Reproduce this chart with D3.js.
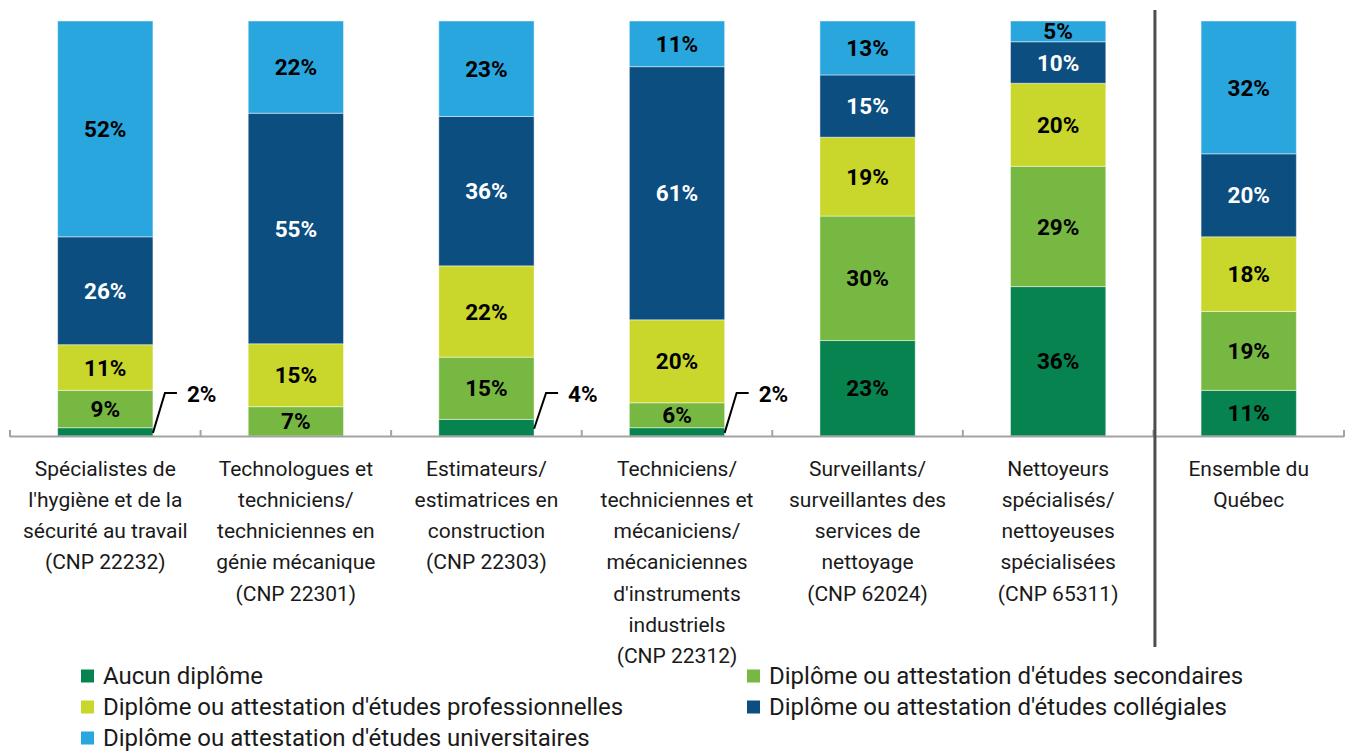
<!DOCTYPE html>
<html><head><meta charset="utf-8">
<script src="https://cdn.jsdelivr.net/npm/d3@7"></script>
<style>html,body{margin:0;padding:0;background:#fff;}svg{display:block;font-family:Roboto,"Noto Sans",sans-serif;}</style>
</head><body>
<svg id="chart" width="1348" height="751"></svg>
<script>
const categories = [
  ["Spécialistes de","l'hygiène et de la","sécurité au travail","(CNP 22232)"],
  ["Technologues et","techniciens/","techniciennes en","génie mécanique","(CNP 22301)"],
  ["Estimateurs/","estimatrices en","construction","(CNP 22303)"],
  ["Techniciens/","techniciennes et","mécaniciens/","mécaniciennes","d'instruments","industriels","(CNP 22312)"],
  ["Surveillants/","surveillantes des","services de","nettoyage","(CNP 62024)"],
  ["Nettoyeurs","spécialisés/","nettoyeuses","spécialisées","(CNP 65311)"],
  ["Ensemble du","Québec"]
];
const seriesNames = ["Aucun diplôme","Diplôme ou attestation d'études secondaires","Diplôme ou attestation d'études professionnelles","Diplôme ou attestation d'études collégiales","Diplôme ou attestation d'études universitaires"];
const aucun       = [2, 0, 4, 2, 23, 36, 11];
const secondaires = [9, 7, 15, 6, 30, 29, 19];
const profession  = [11, 15, 22, 20, 19, 20, 18];
const collegiales = [26, 55, 36, 61, 15, 10, 20];
const universit   = [52, 22, 23, 11, 13, 5, 32];
const colors = ["#07834f","#77b843","#c9d62b","#0c4e7f","#29a6dd"];
const labelColors = ["#000","#000","#000","#fff","#000"];

const seriesVals = [aucun, secondaires, profession, collegiales, universit];
const keys = ["s0","s1","s2","s3","s4"];
const rows = categories.map((c,i)=>{const r={idx:i}; keys.forEach((k,j)=>r[k]=seriesVals[j][i]); return r;});
const stack = d3.stack().keys(keys).offset(d3.stackOffsetExpand);
const stacked = stack(rows);

const svg = d3.select("#chart");
const x = d3.scaleBand().domain(d3.range(categories.length)).range([10,1344]).paddingInner(0.5).paddingOuter(0.25);
const y = d3.scaleLinear().domain([0,1]).range([436,21]);
const step = x.step();

// bars
stacked.forEach((s,j)=>{
  svg.append("g").selectAll("rect").data(s).join("rect")
    .attr("x",(d,i)=>x(i)).attr("width",x.bandwidth())
    .attr("y",d=>y(d[1])).attr("height",d=>Math.max(0,y(d[0])-y(d[1])))
    .attr("fill",colors[j]).attr("stroke","rgba(255,255,255,0.45)").attr("stroke-width",1);
});

// axis line & ticks
const ax = svg.append("g");
ax.append("line").attr("x1",10).attr("x2",1344).attr("y1",436.5).attr("y2",436.5).attr("stroke","#a3a3a3").attr("stroke-width",2);
const bounds = d3.range(categories.length+1).map(i=> i<categories.length ? x(i)-step*0.25 : x(i-1)+x.bandwidth()+step*0.25);
ax.selectAll("line.t").data(bounds).join("line").attr("class","t")
  .attr("x1",d=>d).attr("x2",d=>d).attr("y1",430).attr("y2",437).attr("stroke","#a3a3a3").attr("stroke-width",2);

// labels
stacked.forEach((s,j)=>{
  s.forEach((d,i)=>{
    const v = seriesVals[j][i];
    if(v<=0) return;
    const cx = x(i)+x.bandwidth()/2;
    const cy = (y(d[0])+y(d[1]))/2;
    if(v>=5){
      svg.append("text").attr("x",cx).attr("y",cy).attr("dy","0.36em").attr("text-anchor","middle")
        .attr("font-size",22.5).attr("font-weight","bold").attr("fill",labelColors[j]).text(v+"%");
    } else {
      const xr = x(i)+x.bandwidth();
      svg.append("path").attr("d",`M${xr},${cy+1}L${xr+12},393L${xr+24},393`).attr("fill","none").attr("stroke","#000").attr("stroke-width",2);
      svg.append("text").attr("x",xr+34).attr("y",394).attr("dy","0.36em")
        .attr("font-size",22.5).attr("font-weight","bold").attr("fill","#000").text(v+"%");
    }
  });
});

// category labels
categories.forEach((lines,i)=>{
  const t = svg.append("text").attr("x",x(i)+x.bandwidth()/2).attr("text-anchor","middle").attr("font-size",21).attr("fill","#1a1a1a");
  lines.forEach((l,k)=>t.append("tspan").attr("x",x(i)+x.bandwidth()/2).attr("y",468+k*31.3).attr("dy","0.36em").text(l));
});

// separator
const sepX = bounds[6]+1.5;
svg.append("line").attr("x1",sepX).attr("x2",sepX).attr("y1",10).attr("y2",647).attr("stroke","#4d4d4d").attr("stroke-width",3);

// legend
const lg = svg.append("g");
seriesNames.forEach((n,j)=>{
  const col = j%2, row = Math.floor(j/2);
  const lx = col===0 ? 81 : 747, ly = 675.5+row*31;
  lg.append("rect").attr("x",lx).attr("y",ly-6).attr("width",13).attr("height",13).attr("fill",colors[j]);
  lg.append("text").attr("x",lx+22).attr("y",ly).attr("dy","0.34em").attr("font-size",24).attr("fill","#1a1a1a").text(n);
});
</script>
</body></html>
